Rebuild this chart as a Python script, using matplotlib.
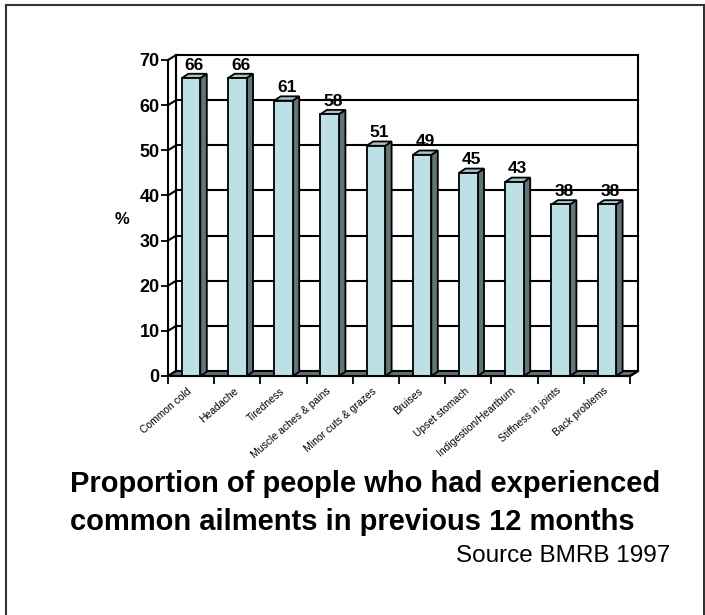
import numpy as np
import matplotlib.pyplot as plt
import matplotlib.transforms as mtransforms
from matplotlib.patches import Polygon
from matplotlib.lines import Line2D

plt.rcParams['font.family'] = ['Liberation Sans', 'DejaVu Sans']

ailments = ['Common cold', 'Headache', 'Tiredness', 'Muscle aches & pains',
            'Minor cuts & grazes', 'Bruises', 'Upset stomach',
            'Indigestion/Heartburn', 'Stiffness in joints', 'Back problems']
percent = [66, 66, 61, 58, 51, 49, 45, 43, 38, 38]
yticks = [0, 10, 20, 30, 40, 50, 60, 70]

front_col = '#bce0e3'
top_col = '#a3c6c8'
side_col = '#5f7676'
floor_col = '#5f7676'

W, H = 705, 615
fig = plt.figure(figsize=(W / 100, H / 100), dpi=100)

# outer frame (bottom edge runs off the page)
for xs, ys in [([6, 6], [0, 610]), ([6, 704], [610, 610]), ([704, 704], [0, 610])]:
    fig.add_artist(Line2D(np.array(xs) / W, np.array(ys) / H, color='#333333', lw=1.5))

ax = fig.add_axes([168 / W, 1 - 376 / H, 462 / W, 316 / H])
n = len(ailments)
x = np.arange(n)
x0, x1 = -0.5, n - 0.5
ax.set_xlim(x0, x1)
ax.set_ylim(0, 70)

# depth of the walls and of the columns, in data units
dx, dy = 0.175, 1.1
bdx, bdy = 0.14, 0.95
lw = 1.5

# back wall with gridlines, side wall diagonals
ax.add_patch(Polygon([(x0 + dx, dy), (x1 + dx, dy), (x1 + dx, 70 + dy), (x0 + dx, 70 + dy)],
                     closed=True, fc='white', ec='black', lw=lw, zorder=1, clip_on=False))
for v in yticks[1:-1]:
    ax.plot([x0 + dx, x1 + dx], [v + dy, v + dy], color='black', lw=lw, zorder=1, clip_on=False)
for v in yticks:
    ax.plot([x0, x0 + dx], [v, v + dy], color='black', lw=lw, zorder=1, clip_on=False)
ax.plot([x0 + dx, x0 + dx], [dy, 70 + dy], color='black', lw=lw, zorder=1, clip_on=False)

# floor
ax.add_patch(Polygon([(x0, 0), (x1, 0), (x1 + dx, dy), (x0 + dx, dy)],
                     closed=True, fc=floor_col, ec='black', lw=lw, zorder=2, clip_on=False))

# columns: front face from ax.bar, then side and top faces
bars = ax.bar(x, percent, width=0.4, color=front_col, edgecolor='black', lw=1.3, zorder=4)
for b, v in zip(bars, percent):
    l = b.get_x()
    r = l + b.get_width()
    ax.add_patch(Polygon([(r, 0), (r + bdx, bdy), (r + bdx, v + bdy), (r, v)],
                         closed=True, fc=side_col, ec='black', lw=1.3, zorder=3, clip_on=False))
    ax.add_patch(Polygon([(l, v), (r, v), (r + bdx, v + bdy), (l + bdx, v + bdy)],
                         closed=True, fc=top_col, ec='black', lw=1.3, zorder=3, clip_on=False))
    ax.annotate(str(v), (b.get_x() + b.get_width() / 2 + bdx / 2, v + bdy),
                xytext=(0, 3), textcoords='offset points', ha='center', va='baseline',
                fontsize=12.5, fontweight='bold', zorder=5, annotation_clip=False)

for s in ['top', 'right', 'bottom']:
    ax.spines[s].set_visible(False)
ax.spines['left'].set_linewidth(lw)
ax.axhline(0, color='black', lw=lw, zorder=5, clip_on=False)
ax.plot([x1, x1 + dx], [0, dy], color='black', lw=lw, zorder=5, clip_on=False)

ax.set_yticks(yticks)
ax.set_yticklabels([str(v) for v in yticks], fontsize=13, fontweight='bold')
ax.tick_params(axis='y', length=5, width=1.3, pad=1)

# labels on category centres, tick marks on category boundaries
ax.set_xticks(x)
ax.set_xticklabels(ailments, rotation=41, ha='right', rotation_mode='anchor', fontsize=7.5)
ax.tick_params(axis='x', which='major', length=0, pad=7)
ax.set_xticks(np.arange(x0, x1 + 0.01, 1), minor=True)
ax.tick_params(axis='x', which='minor', length=6, width=1.3, direction='out')
shift = mtransforms.ScaledTranslation(-4 / 100, 0, fig.dpi_scale_trans)
for t in ax.get_xticklabels():
    t.set_transform(t.get_transform() + shift)

fig.text(122 / W, 1 - 219 / H, '%', fontsize=12, fontweight='bold', ha='center', va='center')

fig.text(70 / W, 1 - 492 / H, 'Proportion of people who had experienced',
         fontsize=21, fontweight='bold', ha='left', va='baseline')
fig.text(70 / W, 1 - 530 / H, 'common ailments in previous 12 months',
         fontsize=21, fontweight='bold', ha='left', va='baseline')
fig.text(670 / W, 1 - 562 / H, 'Source BMRB 1997', fontsize=17.5, ha='right', va='baseline')

fig.savefig('out.png', dpi=100, facecolor='white')
